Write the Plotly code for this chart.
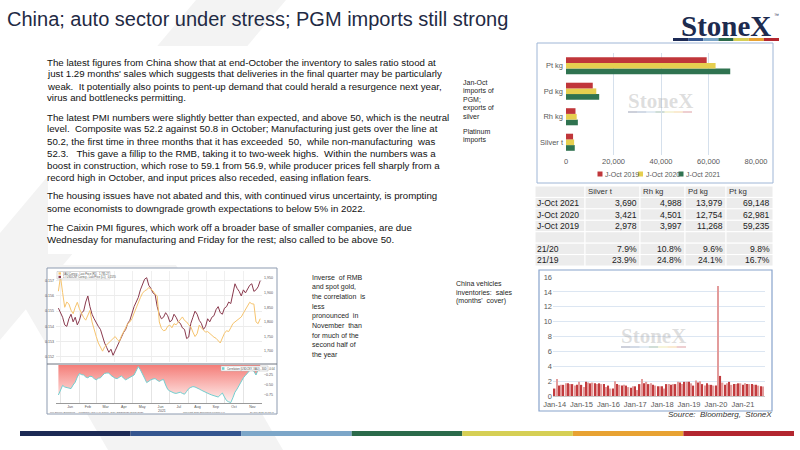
import plotly.graph_objects as go
import pandas as pd

# ---------------- data ----------------
pgm_categories = ["Silver t", "Rh kg", "Pd kg", "Pt kg"]
joct_2019 = [2978, 3997, 11268, 59235]
joct_2020 = [3421, 4501, 12754, 62981]
joct_2021 = [3690, 4988, 13979, 69148]
series_names = ["J-Oct 2019", "J-Oct 2020", "J-Oct 2021"]
pgm_xticks = [0, 20000, 40000, 60000, 80000]
table_row_labels = ["J-Oct 2021", "J-Oct 2020", "J-Oct 2019", "", "21/20", "21/19"]

vehicle_months = pd.date_range("2014-01-01", periods=94, freq="MS")
vehicle_cover = [
    1.0, 2.3, 1.4, 1.5, 1.5, 1.7, 1.7, 1.6, 1.6, 1.4, 1.5, 1.9,
    1.5, 1.2, 1.9, 1.8, 1.7, 1.8, 1.7, 1.6, 1.7, 1.6, 1.6, 1.2,
    1.4, 1.0, 1.0, 2.0, 1.6, 1.5, 1.4, 1.5, 1.4, 1.2, 1.1, 1.3,
    1.3, 0.8, 1.6, 2.3, 1.7, 1.9, 1.6, 1.7, 1.5, 1.4, 1.3, 1.3,
    1.3, 1.0, 1.6, 1.6, 1.5, 1.6, 1.6, 1.9, 1.8, 1.6, 1.9, 1.9,
    1.9, 1.7, 1.4, 2.1, 1.8, 2.0, 1.6, 1.4, 1.7, 1.5, 1.5, 1.4,
    1.4, 14.8, 2.7, 1.8, 1.5, 1.7, 1.9, 1.5, 1.6, 1.6, 1.7, 1.7,
    1.5, 1.7, 1.6, 1.6, 1.6, 1.5, 1.5, 1.4, 1.3, 1.29,
]
vehicle_tick_labels = ["Jan-14", "Jan-15", "Jan-16", "Jan-17", "Jan-18", "Jan-19", "Jan-20", "Jan-21"]

bbg_dates = pd.date_range("2020-12-28", periods=97, freq="84h")
rmb_inverse = [
    .1552, .1549, .1546, .1541, .1540, .1545, .1548, .1543, .1546, .1541,
    .1544, .1549, .1550, .1556, .1560, .1553, .1548, .1545, .1542, .1540,
    .1538, .1533, .1529, .1526, .1523, .1525, .1521, .1524, .1527, .1531,
    .1533, .1536, .1538, .1542, .1544, .1549, .1553, .1556, .1559, .1564,
    .1568, .1571, .1572, .1567, .1565, .1562, .1561, .1553, .1548, .1545,
    .1546, .1549, .1547, .1543, .1544, .1548, .1546, .1543, .1542, .1539,
    .1538, .1532, .1533, .1542, .1546, .1550, .1548, .1544, .1542, .1538,
    .1540, .1545, .1543, .1546, .1547, .1551, .1553, .1549, .1548, .1552,
    .1553, .1556, .1555, .1561, .1568, .1565, .1563, .1560, .1564, .1562,
    .1565, .1567, .1568, .1563, .1564, .1566, .1570,
]
spot_gold = [
    1905, 1955, 1900, 1850, 1868, 1861, 1840, 1828, 1850, 1867,
    1845, 1828, 1815, 1806, 1825, 1839, 1800, 1772, 1750, 1728,
    1712, 1700, 1715, 1722, 1730, 1739, 1745, 1750, 1740, 1733,
    1752, 1767, 1780, 1794, 1800, 1811, 1830, 1850, 1868, 1883,
    1898, 1906, 1910, 1917, 1912, 1906, 1895, 1889, 1800, 1778,
    1770, 1772, 1785, 1789, 1780, 1794, 1790, 1800, 1808, 1817,
    1805, 1800, 1790, 1783, 1765, 1750, 1760, 1789, 1780, 1772,
    1765, 1767, 1760, 1756, 1748, 1744, 1735, 1728, 1745, 1761,
    1770, 1767, 1780, 1794, 1800, 1806, 1812, 1817, 1830, 1844,
    1855, 1867, 1862, 1861, 1800, 1794, 1811,
]
correlation = [
    -0.75, -0.62, -0.51, -0.55, -0.56, -0.58, -0.59, -0.50, -0.43, -0.30,
    -0.21, -0.24, -0.25, -0.30, -0.32, -0.28, -0.29, -0.34, -0.37, -0.33,
    -0.32, -0.26, -0.21, -0.20, -0.20, -0.26, -0.30, -0.33, -0.34, -0.30,
    -0.27, -0.33, -0.37, -0.34, -0.32, -0.28, -0.25, -0.12, -0.04, -0.12,
    -0.21, -0.33, -0.44, -0.40, -0.37, -0.35, -0.34, -0.38, -0.41, -0.38,
    -0.36, -0.50, -0.61, -0.65, -0.68, -0.70, -0.71, -0.69, -0.68, -0.71,
    -0.73, -0.66, -0.59, -0.56, -0.54, -0.55, -0.57, -0.60, -0.63, -0.66,
    -0.68, -0.70, -0.73, -0.75, -0.77, -0.78, -0.80, -0.75, -0.70, -0.80,
    -0.89, -0.92, -0.94, -0.82, -0.68, -0.60, -0.50, -0.41, -0.32, -0.26,
    -0.21, -0.14, -0.07, -0.16, -0.25, -0.12, -0.04,
]

title_text = "China; auto sector under stress; PGM imports still strong"
body_lines = [
    "The latest figures from China show that at end-October the inventory to sales ratio stood at",
    "just 1.29 months' sales which suggests that deliveries in the final quarter may be particularly",
    "weak.  It potentially also points to pent-up demand that could herald a resurgence next year,",
    "virus and bottlenecks permitting.",
    "The latest PMI numbers were slightly better than expected, and above 50, which is the neutral",
    "level.  Composite was 52.2 against 50.8 in October; Manufacturing just gets over the line at",
    "50.2, the first time in three months that it has exceeded  50,  while non-manufacturing  was",
    "52.3.   This gave a fillip to the RMB, taking it to two-week highs.  Within the numbers was a",
    "boost in construction, which rose to 59.1 from 56.9, while producer prices fell sharply from a",
    "record high in October, and input prices also receded, easing inflation fears.",
    "The housing issues have not abated and this, with continued virus uncertainty, is prompting",
    "some economists to downgrade growth expectations to below 5% in 2022.",
    "The Caixin PMI figures, which work off a broader base of smaller companies, are due",
    "Wednesday for manufacturing and Friday for the rest; also called to be above 50.",
]
body_y = [62, 74, 86, 98, 117, 129, 141, 153, 165, 177, 196, 208, 227, 239]
pgm_note = ["Jan-Oct", "imports of", "PGM;", "exports of", "silver"]
pt_note = ["Platinum", "imports"]
bbg_note = ["Inverse  of RMB", "and spot gold,", "the correlation  is", "less",
            "pronounced  in", "November  than", "for much of the", "second half of", "the year"]
veh_note = ["China vehicles", "inventories:  sales", "(months'  cover)"]

# ---------------- helpers ----------------
W, H = 800, 450
def PX(x): return x / W
def PY(y): return 1 - y / H

FONT = "Liberation Sans, Arial, sans-serif"
stripe_colors = ["#1c2a55", "#34558f", "#7ca6c8", "#2b6a4a", "#d6cf55", "#e8a232", "#b3262f"]
pgm_colors = {"J-Oct 2019": "#c0363a", "J-Oct 2020": "#e6cf4f", "J-Oct 2021": "#2f7350"}

fig = go.Figure()
shapes = []
ann = []

def rect(x0, y0, x1, y1, fill, line=None, lw=1, layer="below", opacity=1):
    shapes.append(dict(type="rect", xref="paper", yref="paper",
                       x0=PX(x0), x1=PX(x1), y0=PY(y1), y1=PY(y0),
                       fillcolor=fill, line=dict(color=line or fill, width=lw if line else 0),
                       layer=layer, opacity=opacity))

def poly(pts, fill):
    p = "M " + " L ".join(f"{PX(x)},{PY(y)}" for x, y in pts) + " Z"
    shapes.append(dict(type="path", xref="paper", yref="paper", path=p,
                       fillcolor=fill, line=dict(width=0), layer="below"))

def text(x, y, s, size, color="#222", anchor="left", family=FONT, yanchor="middle"):
    ann.append(dict(x=PX(x), y=PY(y), xref="paper", yref="paper", text=s,
                    showarrow=False, xanchor=anchor, yanchor=yanchor, borderpad=0,
                    font=dict(size=size, color=color, family=family)))

def stripe(x0, x1, y0, y1, opacity=1, layer="below"):
    w = (x1 - x0) / len(stripe_colors)
    for i, c in enumerate(stripe_colors):
        rect(x0 + i * w, y0, x0 + (i + 1) * w, y1, c, layer=layer, opacity=opacity)

# background watermark bands
poly([(196, 0), (286, 0), (0, 340), (0, 233)], "#f3f3f3")
poly([(108, 450), (283, 450), (176, 265), (0, 265)], "#f3f3f3")
# white text panel
rect(48, 46, 455, 254, "white")
# chart frames
rect(537, 43, 773, 183, "white", "#9fb6d6", 1)
rect(539, 270, 772, 411, "white", "#88a3cc", 1.2)
rect(47, 268, 277, 414, "white", "#8d9bb0", 1)

# top-right PGM bars (added bottom-to-top within each group)
for name, vals in [("J-Oct 2021", joct_2021), ("J-Oct 2020", joct_2020), ("J-Oct 2019", joct_2019)]:
    fig.add_trace(go.Bar(x=vals, y=pgm_categories, orientation="h", name=name,
                         marker=dict(color=pgm_colors[name], line=dict(width=0)),
                         xaxis="x", yaxis="y", showlegend=False, hoverinfo="skip"))

# manual legend for PGM chart
for i, name in enumerate(series_names):
    lx = 600 + i * 40.5
    rect(lx - 2.5, 171.5, lx + 2.5, 176.5, pgm_colors[name], layer="above")
    text(lx + 4, 174, name, 7, "#595959")

# watermark logos inside charts
text(660, 101, "<b>StoneX</b>", 21, "rgba(160,160,160,0.35)", "center", "Liberation Serif, serif")
stripe(628, 692, 111, 113, opacity=0.22)
text(653, 336, "<b>StoneX</b>", 21, "rgba(160,160,160,0.35)", "center", "Liberation Serif, serif")
stripe(621, 686, 346, 348, opacity=0.22)

# table (cells drawn as shapes, values from the data arrays)
def pct(a, b): return f"{(a / b - 1) * 100:.1f}%"
table_cols = []
for k in range(len(pgm_categories)):
    table_cols.append([f"{joct_2021[k]:,}", f"{joct_2020[k]:,}", f"{joct_2019[k]:,}", "",
                       pct(joct_2021[k], joct_2020[k]), pct(joct_2021[k], joct_2019[k])])
col_edges = [535, 585, 640, 685, 726, 773]
row_h = 80 / 7
t_top = 186
for r in range(7):
    for c in range(5):
        rect(col_edges[c], t_top + r * row_h, col_edges[c + 1], t_top + (r + 1) * row_h,
             "#ececec", "white", 1, layer="above")
for c, name in enumerate(pgm_categories):
    text(col_edges[c + 1] + 1.5, t_top + row_h / 2, name, 7.8, "#333")
for r, lab in enumerate(table_row_labels):
    yc = t_top + (r + 1.5) * row_h
    text(535.5, yc, lab, 8.6, "#222")
    for c in range(len(pgm_categories)):
        text(col_edges[c + 2] - 2, yc, table_cols[c][r], 8.6, "#222", "right")

# vehicle inventories bars
veh_colors = ["#c23b3e" if i % 2 == 0 else "#e39c9c" for i in range(len(vehicle_cover))]
fig.add_trace(go.Bar(x=vehicle_months, y=vehicle_cover, marker=dict(color=veh_colors, line=dict(width=0)),
                     xaxis="x2", yaxis="y2", showlegend=False, hoverinfo="skip"))

# Bloomberg style chart
fig.add_trace(go.Scatter(x=bbg_dates, y=spot_gold, mode="lines", line=dict(color="#f6c46e", width=1),
                         xaxis="x3", yaxis="y4", showlegend=False, hoverinfo="skip"))
fig.add_trace(go.Scatter(x=bbg_dates, y=rmb_inverse, mode="lines", line=dict(color="#8a3a4e", width=1),
                         xaxis="x3", yaxis="y3", showlegend=False, hoverinfo="skip"))
fig.add_trace(go.Scatter(x=bbg_dates, y=correlation, mode="lines", fill="tozeroy",
                         fillgradient=dict(type="vertical", start=-0.95, stop=0,
                                           colorscale=[[0, "#fff4f3"], [1, "#f47d78"]]),
                         line=dict(color="#72cfd0", width=1),
                         xaxis="x4", yaxis="y5", showlegend=False, hoverinfo="skip"))
# panel separator
shapes.append(dict(type="line", xref="paper", yref="paper", x0=PX(47), x1=PX(277),
                   y0=PY(364), y1=PY(364), line=dict(color="#6f7480", width=1), layer="above"))
# tiny in-chart legends
rect(57, 271.5, 110, 279, "white", "#b0b0b0", 0.5, layer="above")
rect(58.5, 272.3, 61, 274.6, "#f6c46e", layer="above")
rect(58.5, 275.8, 61, 278.1, "#8a3a4e", layer="above")
text(62, 273.5, "XAU Curncy - Last Price (R1)   1,785.27", 2.6, "#444")
text(62, 277, "1 / USDCNY Curncy - Last Price (L1)   0.1570", 2.6, "#444")
rect(221, 366, 268, 371, "white", "#b0b0b0", 0.5, layer="above")
rect(222, 367.2, 224.5, 369.8, "#72cfd0", layer="above")
text(225.5, 368.5, "Correlation (USDCNY, XAU) - 30D   -0.04", 2.6, "#444")
text(162, 410.5, "2021", 3.5, "#555", "center")
text(49, 412.5, "Lon Source: Bloomberg  -  1/USDCNY and XAU Curncy  Daily 28DEC2020-29NOV2021", 2.4, "#666")
text(182, 412.5, "Copyright 2021 Bloomberg Finance L.P.", 2.4, "#666")
text(275, 412.5, "29-Nov-2021 10:12:41", 2.4, "#666", "right")

# stripes
stripe(673, 779, 38, 41)
stripe(20, 794, 431, 436)

# texts
text(6, 19, title_text, 20, "#1f2a44")
text(772, 26, "<b>StoneX</b>", 29, "#1d2b4f", "right", "Liberation Serif, Times New Roman, serif")
text(773, 15, "™", 5, "#1d2b4f")
for s, y in zip(body_lines, body_y):
    text(46, y, s, 9.7, "#111")
for i, s in enumerate(pgm_note):
    text(462, 83 + 8.3 * i, s, 7, "#262626")
for i, s in enumerate(pt_note):
    text(462, 131 + 8.5 * i, s, 7, "#262626")
for i, s in enumerate(bbg_note):
    text(311, 277 + 9.7 * i, s, 7, "#262626")
for i, s in enumerate(veh_note):
    text(455, 283 + 9 * i, s, 7, "#262626")
text(773, 414, "<i>Source:  Bloomberg,  StoneX</i>", 8, "#333", "right")

tick_font = dict(size=7.5, color="#595959", family=FONT)
tiny = dict(size=3.6, color="#555", family=FONT)
bbg_range = ["2020-12-24", "2021-12-02"]

fig.update_layout(
    width=W, height=H, margin=dict(l=0, r=0, t=0, b=0, autoexpand=False),
    paper_bgcolor="white", plot_bgcolor="rgba(0,0,0,0)",
    barmode="group", bargap=0.33, bargroupgap=0,
    shapes=shapes, annotations=ann, showlegend=False,
    xaxis=dict(domain=[PX(566), PX(756)], range=[0, 80000], tickvals=pgm_xticks, tickformat=",",
               showgrid=True, gridcolor="#d5e0ec", gridwidth=1, zeroline=False, showline=False,
               tickfont=tick_font, anchor="y", fixedrange=True, ticks="", automargin=False),
    yaxis=dict(domain=[PY(155), PY(53)], categoryorder="array", categoryarray=pgm_categories,
               tickfont=tick_font, showgrid=False, showline=False, anchor="x", ticks="",
               ticklabelstandoff=2, automargin=False),
    xaxis2=dict(domain=[PX(553), PX(765)], type="date", range=["2013-12-10", "2021-10-28"],
                tickvals=vehicle_months[::12], ticktext=vehicle_tick_labels, tickfont=tick_font,
                showgrid=False, showline=True, linecolor="#c8c8c8", ticks="", anchor="y2",
                ticklabelstandoff=1, automargin=False),
    yaxis2=dict(domain=[PY(396), PY(277)], range=[0, 16], dtick=2, gridcolor="#dce6f2",
                zeroline=False, showline=False, tickfont=tick_font, anchor="x2", ticks="",
                automargin=False),
    xaxis3=dict(domain=[PX(56), PX(262)], type="date", range=bbg_range, anchor="y3",
                showticklabels=False, showgrid=True, gridcolor="#efefef", dtick="M1",
                tick0="2021-01-01", ticks="", automargin=False),
    yaxis3=dict(domain=[PY(362), PY(271)], range=[0.15166, 0.15764], anchor="x3", side="left",
                tickvals=[0.152, 0.153, 0.154, 0.155, 0.156, 0.157], tickformat=".3f",
                tickfont=tiny, gridcolor="#ececec", zeroline=False, ticks="", ticklabelstandoff=1,
                automargin=False),
    yaxis4=dict(overlaying="y3", side="right", range=[1663, 1974], anchor="x3",
                tickvals=[1700, 1750, 1800, 1850, 1900, 1950], tickformat=",",
                tickfont=tiny, showgrid=False, zeroline=False, ticks="", ticklabelstandoff=1,
                automargin=False),
    xaxis4=dict(domain=[PX(56), PX(262)], type="date", range=bbg_range, anchor="y5",
                tickformat="%b", dtick="M1", tick0="2021-01-01", ticklabelmode="period",
                tickfont=tiny, showgrid=True, gridcolor="#e4e4e4", ticks="", showline=True,
                linecolor="#9a9a9a", linewidth=0.6, automargin=False),
    yaxis5=dict(domain=[PY(403), PY(365)], range=[-0.95, 0], anchor="x4", side="right",
                tickvals=[-0.25, -0.5, -0.75], tickformat=".2f", tickfont=tiny,
                showgrid=False, zeroline=False, ticks="", ticklabelstandoff=1, automargin=False),
)

fig.write_html("out.html", config={"displayModeBar": False},
               post_script="document.body.style.margin='0';document.body.style.overflow='hidden';")
